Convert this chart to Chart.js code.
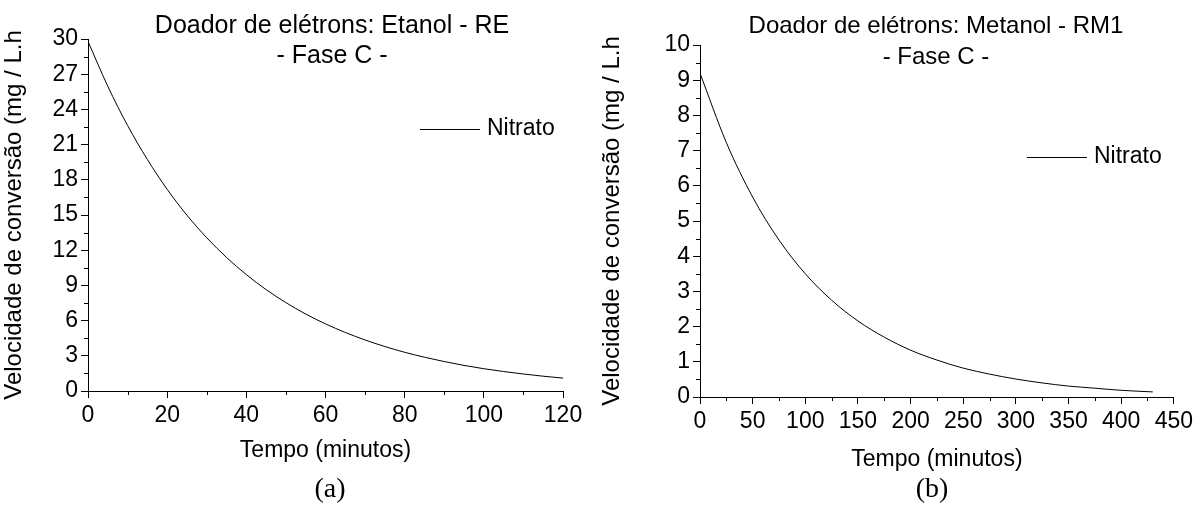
<!DOCTYPE html>
<html>
<head>
<meta charset="utf-8">
<script src="https://cdn.jsdelivr.net/npm/chart.js@4/dist/chart.umd.min.js"></script>
<style>
  html, body { margin: 0; padding: 0; background: #fff; }
  #wrap { position: relative; width: 1197px; height: 506px; }
  .box { position: absolute; top: 0; height: 506px; }
  #boxA { left: 0; width: 598px; }
  #boxB { left: 598px; width: 599px; }
</style>
</head>
<body>
<div id="wrap">
  <div class="box" id="boxA"><canvas id="chartA"></canvas></div>
  <div class="box" id="boxB"><canvas id="chartB"></canvas></div>
</div>
<script>
// data
const tempoA = [0, 5, 10, 15, 20, 25, 30, 35, 40, 45, 50, 55, 60, 65, 70, 75, 80, 85, 90, 95, 100, 105, 110, 115, 120];
const nitratoA = [29.8, 25.97, 22.63, 19.73, 17.19, 14.98, 13.06, 11.38, 9.92, 8.64, 7.53, 6.56, 5.72, 4.99, 4.35, 3.79, 3.30, 2.88, 2.51, 2.18, 1.90, 1.66, 1.45, 1.26, 1.10];

const tempoB = [0, 25, 50, 75, 100, 125, 150, 175, 200, 225, 250, 275, 300, 325, 350, 375, 400, 430];
const nitratoB = [9.2, 7.23, 5.68, 4.46, 3.50, 2.75, 2.16, 1.70, 1.33, 1.05, 0.82, 0.65, 0.51, 0.40, 0.31, 0.25, 0.19, 0.145];

const titlesA = ['Doador de elétrons: Etanol - RE', '- Fase C -'];
const titlesB = ['Doador de elétrons: Metanol - RM1', '- Fase C -'];
const xTitle = 'Tempo (minutos)';
const yTitle = 'Velocidade de conversão (mg / L.h';
const serieName = 'Nitrato';

const FONT = 'Arial, "Liberation Sans", sans-serif';

// draws titles, legend, caption and minor ticks
const extras = {
  id: 'extras',
  afterDraw(chart, args, o) {
    const ctx = chart.ctx;
    const xs = chart.scales.x, ys = chart.scales.y;
    ctx.save();
    ctx.strokeStyle = '#000';
    ctx.lineWidth = 1;
    // minor ticks
    ctx.beginPath();
    for (let v = xs.min + o.xMinor; v < xs.max; v += o.xMinor * 2) {
      const px = Math.round(xs.getPixelForValue(v)) + 0.5;
      ctx.moveTo(px, ys.bottom);
      ctx.lineTo(px, ys.bottom + 4);
    }
    for (let v = ys.min + o.yMinor; v < ys.max; v += o.yMinor * 2) {
      const py = Math.round(ys.getPixelForValue(v)) + 0.5;
      ctx.moveTo(xs.left - 4, py);
      ctx.lineTo(xs.left, py);
    }
    ctx.stroke();

    // titles
    ctx.fillStyle = '#000';
    ctx.textAlign = 'center';
    ctx.textBaseline = 'middle';
    ctx.font = o.titleSize + 'px ' + FONT;
    ctx.fillText(o.titles[0], o.titleX, o.titleY[0]);
    ctx.fillText(o.titles[1], o.titleX, o.titleY[1]);

    // legend
    ctx.font = '23px ' + FONT;
    ctx.beginPath();
    ctx.moveTo(o.legX, o.legY + 0.5);
    ctx.lineTo(o.legX + 60, o.legY + 0.5);
    ctx.stroke();
    ctx.textAlign = 'left';
    ctx.fillText(chart.data.datasets[0].label, o.legX + 67, o.legY);

    // caption
    ctx.textAlign = 'center';
    ctx.font = '28px "Times New Roman", "Liberation Serif", serif';
    ctx.fillText(o.caption, o.capX, o.capY);
    ctx.restore();
  }
};

function makeChart(id, tempo, valores, cfg) {
  const pts = tempo.map((t, i) => ({ x: t, y: valores[i] }));
  return new Chart(document.getElementById(id), {
    type: 'line',
    data: {
      datasets: [{
        label: serieName,
        data: pts,
        borderColor: '#000',
        borderWidth: 1,
        pointRadius: 0,
        fill: false,
        cubicInterpolationMode: 'monotone'
      }]
    },
    options: {
      responsive: true,
      maintainAspectRatio: false,
      animation: false,
      layout: { padding: { left: 0, top: cfg.top, right: cfg.right, bottom: cfg.bottom } },
      plugins: {
        legend: { display: false },
        tooltip: { enabled: false },
        extras: cfg.extras
      },
      scales: {
        x: {
          type: 'linear',
          min: 0, max: cfg.xMax,
          afterFit: s => { s.height = cfg.xHeight; },
          ticks: { stepSize: cfg.xStep, color: '#000', padding: 4, maxRotation: 0,
                   font: { family: FONT, size: 23 } },
          grid: { drawOnChartArea: false, tickLength: 7, color: '#000' },
          border: { color: '#000', width: 1 },
          title: { display: true, text: xTitle, color: '#000', padding: { top: 12 },
                   font: { family: FONT, size: 23 } }
        },
        y: {
          min: 0, max: cfg.yMax,
          afterFit: s => { s.width = cfg.yWidth; },
          ticks: { stepSize: cfg.yStep, color: '#000', padding: 3,
                   font: { family: FONT, size: 23 } },
          grid: { drawOnChartArea: false, tickLength: 7, color: '#000' },
          border: { color: '#000', width: 1 },
          title: { display: true, text: yTitle, color: '#000', padding: 0,
                   font: { family: FONT, size: 24 } }
        }
      }
    },
    plugins: [extras]
  });
}

makeChart('chartA', tempoA, nitratoA, {
  top: 39, right: 35, bottom: 38, xHeight: 77, yWidth: 88,
  xMax: 120, xStep: 20, yMax: 30, yStep: 3,
  extras: { xMinor: 10, yMinor: 1.5, titles: titlesA, titleSize: 25, titleX: 332, titleY: [26, 56],
            legX: 420, legY: 129, caption: '(a)', capX: 330, capY: 490 }
});

makeChart('chartB', tempoB, nitratoB, {
  top: 45, right: 22, bottom: 29, xHeight: 80, yWidth: 102,
  xMax: 450, xStep: 50, yMax: 10, yStep: 1,
  extras: { xMinor: 25, yMinor: 0.5, titles: titlesB, titleSize: 24, titleX: 338, titleY: [26, 57],
            legX: 429, legY: 157, caption: '(b)', capX: 334, capY: 490 }
});
</script>
</body>
</html>
